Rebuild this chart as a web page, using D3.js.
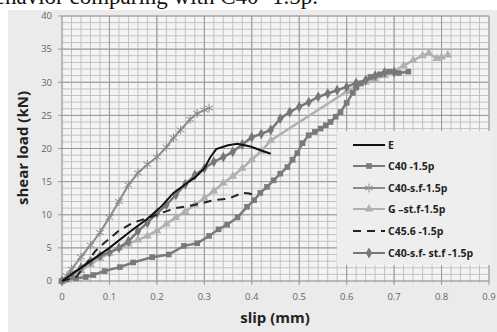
<!DOCTYPE html>
<html>
<head>
<meta charset="utf-8">
<script src="https://cdn.jsdelivr.net/npm/d3@7"></script>
<style>
  body { margin: 0; background: #fff; }
  svg { display: block; }
</style>
</head>
<body>
<div id="chart"></div>
<script>
// Series values (slip in mm, shear load in kN)
const eX = [0, 0.02, 0.05, 0.1, 0.15, 0.18, 0.21, 0.235, 0.26, 0.28, 0.3, 0.312, 0.325, 0.35, 0.37, 0.397, 0.42, 0.44];
const eY = [0, 1, 2.5, 5, 7.8, 9.4, 11.3, 13.3, 14.6, 15.6, 17.0, 18.6, 19.9, 20.5, 20.7, 20.3, 19.7, 19.2];

const c40X = [0, 0.01, 0.03, 0.05, 0.066, 0.09, 0.122, 0.15, 0.19, 0.225, 0.257, 0.285, 0.31, 0.33, 0.348, 0.37, 0.39, 0.405, 0.418, 0.432, 0.446, 0.46, 0.475, 0.486, 0.496, 0.507, 0.52, 0.533, 0.545, 0.556, 0.566, 0.577, 0.587, 0.6, 0.613, 0.62, 0.63, 0.65, 0.67, 0.69, 0.71, 0.73];
const c40Y = [0, 0.2, 0.4, 0.6, 0.9, 1.5, 2.1, 2.8, 3.6, 4.0, 5.3, 5.7, 6.8, 7.8, 8.5, 9.6, 11.2, 12.2, 13.3, 14.2, 15.2, 16.2, 17.2, 18.3, 19.3, 20.8, 22.0, 22.5, 23.0, 23.5, 24.0, 24.8, 25.5, 26.9, 28.4, 29.2, 29.8, 30.8, 31.2, 31.6, 31.4, 31.6];

const sfX = [0, 0.01, 0.02, 0.04, 0.06, 0.08, 0.1, 0.12, 0.14, 0.16, 0.18, 0.2, 0.22, 0.235, 0.25, 0.27, 0.285, 0.3, 0.31];
const sfY = [0, 0.8, 1.8, 3.6, 5.4, 7.3, 9.6, 12.0, 14.5, 16.3, 17.6, 18.7, 20.2, 21.6, 22.8, 24.4, 25.3, 25.8, 26.1];

const gX = [0, 0.02, 0.04, 0.06, 0.08, 0.1, 0.12, 0.14, 0.16, 0.18, 0.2, 0.22, 0.24, 0.26, 0.28, 0.3, 0.32, 0.34, 0.36, 0.38, 0.4, 0.42, 0.44, 0.6, 0.62, 0.64, 0.66, 0.68, 0.7, 0.72, 0.74, 0.76, 0.773, 0.79, 0.8, 0.813];
const gY = [0, 0.8, 1.6, 2.5, 3.4, 4.2, 5.0, 5.6, 6.2, 6.8, 7.6, 8.6, 9.6, 10.5, 11.5, 12.5, 13.6, 14.8, 15.8, 17, 18.3, 19.6, 21.2, 28.6, 29.4, 30, 30.5, 31, 31.7, 32.5, 33.3, 34, 34.4, 33.6, 33.8, 34.1];

const c456X = [0, 0.03, 0.05, 0.07, 0.09, 0.12, 0.15, 0.18, 0.21, 0.24, 0.28, 0.32, 0.35, 0.38, 0.395, 0.41];
const c456Y = [0, 0.6, 2.5, 4.5, 5.8, 7.6, 8.8, 9.5, 10.3, 11.0, 11.5, 12.2, 12.4, 13.3, 13.2, 12.8];

const sfstX = [0, 0.02, 0.04, 0.06, 0.08, 0.1, 0.12, 0.14, 0.16, 0.18, 0.2, 0.22, 0.24, 0.26, 0.28, 0.3, 0.32, 0.34, 0.36, 0.38, 0.4, 0.42, 0.44, 0.46, 0.48, 0.5, 0.52, 0.54, 0.56, 0.58, 0.6, 0.62, 0.64, 0.66, 0.68, 0.7];
const sfstY = [0, 1.0, 2.0, 3.0, 3.8, 4.3, 5.0, 6.0, 7.5, 8.8, 10.2, 11.5, 13.0, 14.6, 16.0, 17.0, 18.0, 18.7, 19.5, 20.6, 21.7, 22.2, 22.8, 24.5, 25.5, 26.3, 27.0, 27.8, 28.3, 28.8, 29.3, 29.9, 30.3, 31.0, 31.5, 31.5];

const seriesNames = ["E", "C40 -1.5p", "C40-s.f-1.5p", "G \u2013st.f-1.5p", "C45.6 -1.5p", "C40-s.f- st.f -1.5p"];
const xTicks = [0, 0.1, 0.2, 0.3, 0.4, 0.5, 0.6, 0.7, 0.8, 0.9];
const yTicks = [0, 5, 10, 15, 20, 25, 30, 35, 40];

const width = 497, height = 332;
const svg = d3.select("#chart").append("svg")
    .attr("width", width)
    .attr("height", height);

// clipped caption line at the very top (belongs to the surrounding page)
svg.append("text")
    .attr("x", 318).attr("y", 4)
    .attr("text-anchor", "end")
    .style("font-family", "'Liberation Serif', 'Times New Roman', serif")
    .style("font-size", "23px")
    .attr("fill", "#111")
    .text("behavior comparing with C40 -1.5p.");

// chart area background
svg.append("rect")
    .attr("x", 8).attr("y", 10)
    .attr("width", width - 8).attr("height", height - 10)
    .attr("fill", "#ebebeb");

const x = d3.scaleLinear().domain([0, 0.9]).range([62, 489]);
const y = d3.scaleLinear().domain([0, 40]).range([281, 16]);

svg.append("rect")
    .attr("x", x(0)).attr("y", y(40))
    .attr("width", x(0.9) - x(0)).attr("height", y(0) - y(40))
    .attr("fill", "#f4f4f4");

// minor grid
const minorX = d3.range(0, 46).map(i => i * 0.02);
const minorY = d3.range(0, 41);
svg.append("g").selectAll("line").data(minorX).enter().append("line")
    .attr("x1", d => x(d)).attr("x2", d => x(d))
    .attr("y1", y(0) + 2).attr("y2", y(40))
    .attr("stroke", "#c2c2c2").attr("stroke-width", 1);
svg.append("g").selectAll("line").data(minorY).enter().append("line")
    .attr("x1", x(0)).attr("x2", x(0.9))
    .attr("y1", d => y(d)).attr("y2", d => y(d))
    .attr("stroke", "#c2c2c2").attr("stroke-width", 1);

// major grid
svg.append("g").selectAll("line").data(xTicks).enter().append("line")
    .attr("x1", d => x(d)).attr("x2", d => x(d))
    .attr("y1", y(0) + 4).attr("y2", y(40))
    .attr("stroke", "#999").attr("stroke-width", 1);
svg.append("g").selectAll("line").data(yTicks).enter().append("line")
    .attr("x1", x(0) - 4).attr("x2", x(0.9))
    .attr("y1", d => y(d)).attr("y2", d => y(d))
    .attr("stroke", "#999").attr("stroke-width", 1);

// tick labels
svg.append("g").selectAll("text").data(yTicks).enter().append("text")
    .attr("x", 52).attr("y", d => y(d)).attr("dy", "0.35em")
    .attr("text-anchor", "end")
    .style("font-family", "'Open Sans', sans-serif").style("font-size", "9.5px")
    .attr("fill", "#666")
    .text(d => d);
svg.append("g").selectAll("text").data(xTicks).enter().append("text")
    .attr("x", d => x(d)).attr("y", 297).attr("dy", "0.35em")
    .attr("text-anchor", "middle")
    .style("font-family", "'Open Sans', sans-serif").style("font-size", "9.5px")
    .attr("fill", "#666")
    .text(d => d);

// axis titles
svg.append("text")
    .attr("transform", "translate(28,148) rotate(-90)")
    .attr("text-anchor", "middle")
    .style("font-family", "'Open Sans', sans-serif").style("font-size", "15px").style("font-weight", "bold")
    .attr("fill", "#222")
    .text("shear load (kN)");
svg.append("text")
    .attr("x", 275).attr("y", 323)
    .attr("text-anchor", "middle")
    .style("font-family", "'Open Sans', sans-serif").style("font-size", "15px").style("font-weight", "bold")
    .attr("fill", "#222")
    .text("slip (mm)");

// series styles
const series = [
    { name: seriesNames[0], xs: eX, ys: eY, color: "#111", width: 2, dash: null, symbol: null },
    { name: seriesNames[1], xs: c40X, ys: c40Y, color: "#7a7a7a", width: 2.5, dash: null, symbol: d3.symbolSquare, size: 32 },
    { name: seriesNames[2], xs: sfX, ys: sfY, color: "#8c8c8c", width: 2, dash: null, symbol: d3.symbolAsterisk, size: 55, stroke: true },
    { name: seriesNames[3], xs: gX, ys: gY, color: "#b0b0b0", width: 2.5, dash: null, symbol: d3.symbolTriangle, size: 32 },
    { name: seriesNames[4], xs: c456X, ys: c456Y, color: "#222", width: 2, dash: "8,6", symbol: null },
    { name: seriesNames[5], xs: sfstX, ys: sfstY, color: "#777", width: 2.5, dash: null, symbol: d3.symbolDiamond, size: 34 }
];

const line = d3.line().x(d => x(d[0])).y(d => y(d[1]));

function drawMarker(g, s, px, py) {
    const m = g.append("path")
        .attr("transform", `translate(${px},${py})`)
        .attr("d", d3.symbol().type(s.symbol).size(s.size)());
    if (s.stroke) m.attr("fill", "none").attr("stroke", s.color).attr("stroke-width", 1);
    else m.attr("fill", s.color);
}

const plot = svg.append("g");
// order so E and the dashed line sit over the marker series
[3, 1, 5, 2, 4, 0].forEach(i => {
    const s = series[i];
    const pts = s.xs.map((v, j) => [v, s.ys[j]]);
    plot.append("path")
        .datum(pts)
        .attr("d", line)
        .attr("fill", "none")
        .attr("stroke", s.color)
        .attr("stroke-width", s.width)
        .attr("stroke-dasharray", s.dash);
    if (s.symbol) {
        const g = plot.append("g");
        pts.forEach(p => drawMarker(g, s, x(p[0]), y(p[1])));
    }
});

// legend
const legend = svg.append("g");
legend.append("rect")
    .attr("x", 337).attr("y", 131)
    .attr("width", 155).attr("height", 134)
    .attr("fill", "#eeeeee");
const legY = [145, 166, 188, 209, 231, 253];
series.forEach((s, i) => {
    const ly = legY[i];
    legend.append("line")
        .attr("x1", 353).attr("x2", 385)
        .attr("y1", ly).attr("y2", ly)
        .attr("stroke", s.color).attr("stroke-width", 2)
        .attr("stroke-dasharray", s.dash);
    if (s.symbol) drawMarker(legend, s, 369, ly);
    legend.append("text")
        .attr("x", 388).attr("y", ly).attr("dy", "0.35em")
        .style("font-family", "'Open Sans', sans-serif").style("font-size", "10.5px").style("font-weight", "bold")
        .attr("fill", "#222")
        .text(s.name);
});
</script>
</body>
</html>
